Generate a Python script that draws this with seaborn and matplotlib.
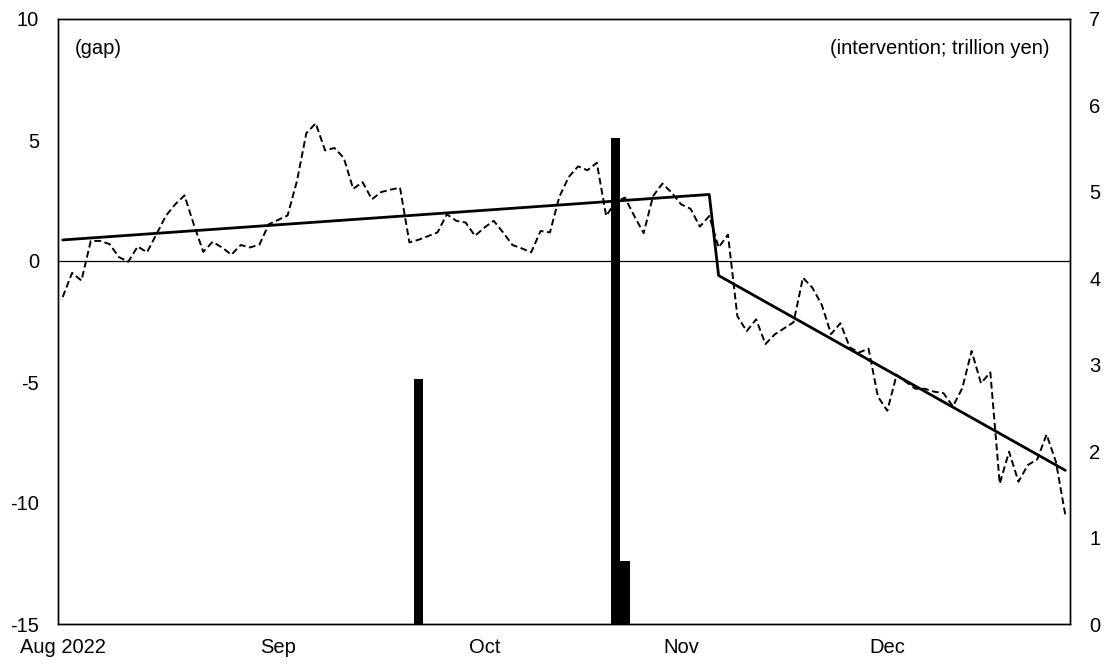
import matplotlib
matplotlib.use("Agg")
import matplotlib.pyplot as plt
import seaborn as sns
import numpy as np
import pandas as pd

# ---------------- data ----------------
# business days shown on the category axis
dates = pd.bdate_range("2022-08-01", "2022-12-28")

gap = [
    -1.49, -0.49, -0.81, 0.83, 0.83, 0.70, 0.16, -0.03, 0.60, 0.36,
    1.10, 1.86, 2.34, 2.71, 1.50, 0.38, 0.79, 0.56, 0.26, 0.66,
    0.56, 0.68, 1.52, 1.70, 1.88, 3.30, 5.28, 5.69, 4.57, 4.67,
    4.26, 2.98, 3.26, 2.55, 2.85, 2.95, 3.03, 0.77, 0.88, 1.03,
    1.18, 1.93, 1.66, 1.59, 1.04, 1.38, 1.66, 1.18, 0.66, 0.52,
    0.36, 1.24, 1.18, 2.65, 3.47, 3.91, 3.75, 4.06, 1.86, 2.45,
    2.62, 1.86, 1.15, 2.68, 3.20, 2.82, 2.34, 2.16, 1.42, 1.86,
    0.56, 1.09, -2.28, -2.90, -2.41, -3.43, -3.03, -2.78, -2.53, -0.69,
    -1.10, -1.80, -3.02, -2.57, -3.57, -3.78, -3.62, -5.60, -6.19, -4.70,
    -5.00, -5.28, -5.28, -5.40, -5.46, -6.01, -5.26, -3.72, -5.05, -4.60,
    -9.20, -7.88, -9.12, -8.43, -8.20, -7.17, -8.30, -10.50,
]

trend_dates = ["2022-08-01", "2022-11-04", "2022-11-07", "2022-12-28"]
trend = [0.87, 2.75, -0.60, -8.65]

intervention_dates = ["2022-09-22", "2022-10-21", "2022-10-24"]
intervention = [2.838, 5.620, 0.729]

month_labels = ["Aug 2022", "Sep", "Oct", "Nov", "Dec"]

# ---------------- helpers ----------------
pos = {d: i for i, d in enumerate(dates)}
x_gap = np.arange(len(dates))
x_trend = [pos[pd.Timestamp(d)] for d in trend_dates]
x_int = [pos[pd.Timestamp(d)] for d in intervention_dates]
month_pos = [i for i in range(len(dates)) if i == 0 or dates[i].month != dates[i - 1].month]

# ---------------- style ----------------
sns.set_theme(style="white")
plt.rcParams["font.family"] = ["Liberation Sans", "DejaVu Sans"]
plt.rcParams["font.size"] = 14.5

fig = plt.figure(figsize=(11.1, 6.69), dpi=100)
ax = fig.add_axes([58 / 1110, 45 / 669, 1012 / 1110, 605 / 669])

ax.axhline(0, color="black", lw=0.9, zorder=1)

sns.lineplot(x=x_gap, y=gap, ax=ax, color="black", lw=1.4,
             linestyle=(0, (3.5, 1.8)), zorder=3)
sns.lineplot(x=x_trend, y=trend, ax=ax, color="black", lw=2.0,
             sort=False, zorder=4)

ax.set_xlim(-0.5, len(dates) - 0.5)
ax.set_ylim(-15, 10)
ax.set_yticks([-15, -10, -5, 0, 5, 10])
ax.set_yticklabels(["-15", "-10", "-5", "0", "5", "10"])
ax.set_xticks(month_pos)
ax.set_xticklabels(month_labels)
ax.tick_params(axis="y", length=0, pad=13.5, labelsize=14.5, colors="black")
ax.tick_params(axis="x", length=0, pad=10, labelsize=14.5, colors="black")
ax.set_xlabel("")
ax.set_ylabel("")

ax2 = ax.twinx()
sns.barplot(x=x_int, y=intervention, ax=ax2, native_scale=True,
            color="black", width=1.0, linewidth=0, saturation=1)
ax2.set_xlim(-0.5, len(dates) - 0.5)
ax2.set_ylim(0, 7)
ax2.set_yticks(range(0, 8))
ax2.tick_params(axis="y", length=0, pad=14, labelsize=14.5, colors="black")
ax2.set_ylabel("")
ax2.set_xlabel("")

for a in (ax, ax2):
    for s in a.spines.values():
        s.set_color("black")
        s.set_linewidth(1.0)
        s.set_visible(True)

ax.text(0.0168, 0.952, "(gap)", transform=ax.transAxes, ha="left", va="center",
        fontsize=14.5, color="black")
ax.text(0.980, 0.952, "(intervention; trillion yen)", transform=ax.transAxes,
        ha="right", va="center", fontsize=14.5, color="black")

fig.savefig("out.png", dpi=100)
